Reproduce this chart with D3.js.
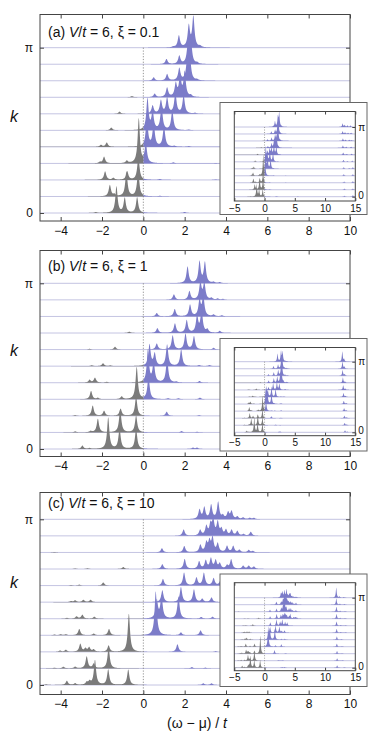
<!DOCTYPE html>
<html>
<head>
<meta charset="utf-8">
<script src="https://cdn.jsdelivr.net/npm/d3@7"></script>
<style>
  body { margin: 0; background: #fff; }
  svg { display: block; }
  text { font-family: "Liberation Sans", Arial, sans-serif; fill: #111; }
</style>
</head>
<body>
<script>
// spectral peaks per k row (k = 0 ... pi in 10 steps), [omega, height in row units]
const peaksA = [
  [[-2.3,0.05],[-1.3,1.6],[-0.9,0.9],[-0.3,0.95],[2.0,0.06],[5.5,0.03]],
  [[-1.62,0.68],[-1.4,0.12],[-0.82,1.5],[-0.25,1.55],[0.8,0.04]],
  [[-1.85,0.52],[-1.45,0.12],[-0.78,0.52],[-0.24,1.4],[0.8,0.05],[3.5,0.03]],
  [[-2.1,0.08],[-1.9,0.4],[-0.8,0.15],[-0.22,2.7],[0.12,1.2],[1.45,0.06],[3.5,0.03]],
  [[-2.05,0.12],[-1.77,0.26],[0.17,1.7],[0.5,1.4],[1.0,1.25],[1.5,0.05],[2.2,0.04]],
  [[-1.55,0.16],[0.2,1.9],[0.45,1.1],[0.88,1.45],[1.4,1.2],[2.2,0.04]],
  [[-1.15,0.13],[0.45,0.5],[0.85,0.8],[1.15,0.95],[1.55,1.25],[1.95,1.1],[2.5,0.05]],
  [[-0.55,0.07],[0.55,0.21],[1.15,0.57],[1.57,0.8],[1.78,1.25],[2.0,1.5],[2.3,0.1]],
  [[0.5,0.2],[1.15,0.4],[1.74,0.75],[2.12,1.1],[2.25,1.4],[2.6,0.06]],
  [[1.12,0.31],[1.74,0.5],[2.15,1.0],[2.3,1.4],[2.6,0.08]],
  [[1.45,0.05],[1.72,0.72],[2.2,1.3],[2.42,1.85],[2.75,0.08]]
];
const peaksB = [
  [[-2.95,0.2],[-2.6,0.05],[-1.7,1.9],[-1.15,1.2],[-0.35,1.2],[2.4,0.08],[2.6,0.08]],
  [[-3.3,0.06],[-2.55,0.08],[-2.2,0.82],[-1.12,1.4],[-0.35,1.0],[1.85,0.08],[2.6,0.04]],
  [[-3.3,0.05],[-2.45,0.62],[-1.9,0.3],[-1.1,0.43],[-0.35,1.15],[1.13,0.25],[2.7,0.05]],
  [[-2.53,0.5],[-2.2,0.08],[-1.05,0.17],[-0.32,1.95],[0.25,1.35],[1.2,0.06],[1.7,0.06],[2.74,0.1]],
  [[-2.6,0.17],[-2.34,0.3],[-1.77,0.05],[0.22,1.95],[0.5,1.2],[1.15,1.45],[1.6,0.05],[2.72,0.1]],
  [[-2.5,0.05],[-1.95,0.17],[-1.6,0.04],[0.3,1.3],[0.55,0.75],[1.15,1.3],[1.83,1.0],[2.7,0.06],[3.2,0.06]],
  [[-2.6,0.05],[-1.37,0.17],[0.65,0.36],[1.42,0.85],[2.04,0.95],[2.45,0.8],[3.4,0.1]],
  [[-0.68,0.08],[0.68,0.29],[1.53,0.57],[2.1,0.76],[2.6,1.0],[2.82,1.35],[3.1,0.2],[3.7,0.12]],
  [[0.65,0.2],[1.52,0.44],[2.26,0.7],[2.72,0.95],[2.9,1.2],[3.4,0.1],[3.8,0.06]],
  [[1.48,0.33],[2.23,0.52],[2.76,1.05],[2.95,1.0],[3.3,0.1],[3.6,0.07],[3.85,0.05]],
  [[2.14,1.0],[2.72,1.3],[2.98,1.25],[3.4,0.07],[3.7,0.06]]
];
const peaksC = [
  [[-4.7,0.04],[-3.7,0.25],[-3.3,0.1],[-2.74,0.15],[-2.6,0.2],[-2.34,1.5],[-1.7,0.93],[-0.73,0.93],[2.9,0.1],[3.3,0.1]],
  [[-4.3,0.04],[-3.87,0.1],[-3.3,0.1],[-2.74,0.72],[-2.4,0.28],[-1.68,1.25],[2.35,0.08],[3.0,0.05]],
  [[-4.03,0.08],[-3.75,0.12],[-3.05,0.48],[-2.8,0.2],[-2.62,0.26],[-2.4,0.14],[-1.68,0.38],[-0.7,2.3],[1.65,0.46],[3.5,0.05]],
  [[-4.3,0.04],[-4.0,0.06],[-3.75,0.06],[-3.1,0.38],[-2.4,0.1],[-1.66,0.38],[0.6,2.65],[1.82,0.17],[2.77,0.3]],
  [[-3.7,0.05],[-3.23,0.14],[-2.95,0.24],[-2.37,0.12],[0.65,1.1],[0.88,1.35],[1.7,1.35],[2.8,0.1],[3.35,0.12]],
  [[-3.5,0.06],[-3.3,0.11],[-2.9,0.14],[-2.55,0.14],[0.92,0.72],[1.82,0.9],[2.45,0.76],[2.85,0.2],[3.3,0.28]],
  [[-3.5,0.04],[-3.1,0.06],[-1.94,0.19],[0.95,0.4],[1.97,0.78],[2.57,0.48],[2.93,0.76],[3.4,0.44],[3.75,0.38]],
  [[-3.3,0.03],[-2.7,0.04],[-0.97,0.12],[0.92,0.29],[2.0,0.6],[2.7,0.45],[3.02,0.5],[3.27,0.62],[3.5,0.5],[3.7,0.32],[4.05,0.2],[4.25,0.57],[4.83,0.19],[5.1,0.19],[5.35,0.14]],
  [[-4.3,0.03],[0.9,0.25],[1.98,0.38],[2.76,0.44],[3.05,0.56],[3.2,0.64],[3.35,0.85],[3.6,0.52],[4.05,0.38],[4.35,0.38],[4.65,0.15],[5.1,0.14],[5.3,0.08]],
  [[1.95,0.38],[2.75,0.34],[3.05,0.56],[3.25,0.64],[3.38,0.92],[3.6,0.8],[3.78,0.38],[4.0,0.34],[4.27,0.34],[4.55,0.28],[4.85,0.1],[5.2,0.24]],
  [[2.72,0.57],[2.95,0.7],[3.28,0.85],[3.62,1.02],[3.85,0.2],[4.1,0.4],[4.27,0.47],[4.55,0.15],[4.83,0.1],[5.15,0.08],[5.35,0.08]]
];

// high-energy satellites, only visible in the insets
const satA = [
  [[13.2,0.12],[14.6,0.2]], [[13.2,0.15],[14.6,0.15]], [[13.15,0.15],[14.6,0.2]],
  [[13.1,0.2],[14.6,0.2]], [[13.1,0.2],[14.0,0.1],[14.6,0.2]], [[13.05,0.25],[13.7,0.1],[14.5,0.15]],
  [[13.0,0.3],[13.6,0.12],[14.4,0.15]], [[12.95,0.3],[13.5,0.15],[14.3,0.15]],
  [[12.95,0.3],[13.4,0.15],[14.0,0.15],[14.4,0.1]], [[12.9,0.35],[13.3,0.2],[13.8,0.15],[14.3,0.15]],
  [[12.9,0.45],[13.25,0.25],[13.7,0.2],[14.2,0.2]]
];
const satB = [
  [[13.3,0.25],[13.7,0.08]], [[13.25,0.3],[13.6,0.08]], [[13.2,0.32],[13.6,0.1]],
  [[13.15,0.38],[13.5,0.1]], [[13.1,0.42],[13.5,0.12]], [[13.05,0.5],[13.4,0.12]],
  [[13.0,0.6],[13.35,0.15]], [[12.95,0.7],[13.3,0.15]], [[12.9,0.75],[13.25,0.2]],
  [[12.88,0.9],[13.2,0.25]], [[12.85,1.3],[13.15,0.3]]
];
const satC = [
  [[12.0,0.3],[13.2,0.05]], [[12.0,0.3],[12.9,0.06]], [[11.98,0.35],[12.8,0.06]],
  [[11.95,0.4],[12.8,0.08]], [[11.95,0.42],[12.7,0.08]], [[11.92,0.5],[12.6,0.1],[13.4,0.06]],
  [[11.9,0.55],[12.6,0.1],[13.4,0.06]], [[11.9,0.6],[12.5,0.1],[13.3,0.08]],
  [[11.88,0.65],[12.5,0.12],[13.3,0.08]], [[11.86,0.8],[12.45,0.12],[13.2,0.1]],
  [[11.85,1.3],[12.4,0.15],[13.1,0.1]]
];

const mainTicks = [-4, -2, 0, 2, 4, 6, 8, 10];
const insetTicks = [-5, 0, 5, 10, 15];
const kLabels = ["0", "π"];

const panels = [
  { tag: "(a)", xi: "0.1", peaks: peaksA, sat: satA,
    top: 14.5, bottom: 221, base0: 213, basePi: 47.7, titleY: 36.5, kY: 122,
    inset: { top: 102.5, bottom: 214.5, iTop: 111.5, iBottom: 201, base0: 196.7, basePi: 127 } },
  { tag: "(b)", xi: "1", peaks: peaksB, sat: satB,
    top: 250.5, bottom: 456.5, base0: 449, basePi: 283.3, titleY: 271, kY: 356,
    inset: { top: 338.5, bottom: 451, iTop: 347.5, iBottom: 435.7, base0: 432.3, basePi: 361.7 } },
  { tag: "(c)", xi: "10", peaks: peaksC, sat: satC,
    top: 492.5, bottom: 694.5, base0: 685, basePi: 519.3, titleY: 508, kY: 588,
    inset: { top: 574, bottom: 686.5, iTop: 582.7, iBottom: 670.7, base0: 667.7, basePi: 597.7 } }
];

const W = 374, H = 732;
const BLUE = "#7c7cc9", GRAY = "#7b7b7b", BASE = "#c4c4e2", FRAME = "#444";

const svg = d3.select("body").append("svg").attr("width", W).attr("height", H);

const gridMain = d3.range(-5, 10.0001, 0.01);
const gridInset = d3.range(-5, 15.0001, 0.02);

function spectrum(peaks, w, gamma) {
  let s = 0;
  peaks.forEach(p => { const u = (w - p[0]) / gamma; s += p[1] / (1 + u * u); });
  return s;
}

// draws the waterfall of rows into g, lower rows painted over upper ones
function drawRows(g, peakRows, grid, x, y, gamma, hScale) {
  for (let k = 10; k >= 0; k--) {
    const pts = grid.map(w => ({ w: w, v: spectrum(peakRows[k], w, gamma) * hScale }));
    const area = d3.area()
      .x(d => x(d.w))
      .y0(y(k))
      .y1(d => y(k + d.v));
    g.append("line")
      .attr("x1", x(grid[0])).attr("x2", x(grid[grid.length - 1]))
      .attr("y1", y(k)).attr("y2", y(k))
      .attr("stroke", BASE).attr("stroke-width", 1);
    g.append("path").datum(pts.filter(d => d.w <= 0))
      .attr("d", area).attr("fill", GRAY);
    g.append("path").datum(pts.filter(d => d.w >= 0))
      .attr("d", area).attr("fill", BLUE);
  }
}

panels.forEach((p, i) => {
  const x = d3.scaleLinear().domain([-5, 10]).range([40, 350]);
  const y = d3.scaleLinear().domain([0, 10]).range([p.base0, p.basePi]);
  const g = svg.append("g");

  svg.append("clipPath").attr("id", "clip" + i)
    .append("rect").attr("x", 40).attr("y", p.top)
    .attr("width", 310).attr("height", p.bottom - p.top);

  const plot = g.append("g").attr("clip-path", "url(#clip" + i + ")");
  drawRows(plot, p.peaks, gridMain, x, y, 0.065, 1);

  // zero line
  g.append("line")
    .attr("x1", x(0)).attr("x2", x(0)).attr("y1", y(10)).attr("y2", p.bottom)
    .attr("stroke", "#777").attr("stroke-width", 0.8).attr("stroke-dasharray", "1.2,1.6");

  // axes with inward ticks
  g.append("g").attr("transform", `translate(0,${p.bottom})`)
    .call(d3.axisBottom(x).tickValues(mainTicks).tickSize(-4).tickPadding(5))
    .call(a => a.select(".domain").remove())
    .call(a => a.selectAll("text").attr("font-size", 12).attr("fill", "#111"));
  g.append("g").attr("transform", `translate(0,${p.top})`)
    .call(d3.axisTop(x).tickValues(mainTicks).tickSize(-4).tickFormat(""))
    .call(a => a.select(".domain").remove());
  g.append("g").attr("transform", "translate(40,0)")
    .call(d3.axisLeft(y).tickValues([0, 10]).tickSize(-4).tickPadding(7)
      .tickFormat((d, j) => kLabels[j]))
    .call(a => a.select(".domain").remove())
    .call(a => a.selectAll("text").attr("font-size", 12).attr("fill", "#111"));
  g.append("g").attr("transform", "translate(350,0)")
    .call(d3.axisRight(y).tickValues([0, 10]).tickSize(-4).tickFormat(""))
    .call(a => a.select(".domain").remove());
  g.selectAll(".tick line").attr("stroke", FRAME);

  g.append("rect").attr("x", 40).attr("y", p.top)
    .attr("width", 310).attr("height", p.bottom - p.top)
    .attr("fill", "none").attr("stroke", FRAME).attr("stroke-width", 1);

  // panel title
  const t = g.append("text").attr("x", 48).attr("y", p.titleY).attr("font-size", 14);
  t.append("tspan").text(p.tag + "  ");
  t.append("tspan").attr("font-style", "italic").text("V");
  t.append("tspan").text("/");
  t.append("tspan").attr("font-style", "italic").text("t");
  t.append("tspan").text(" = 6, ξ = " + p.xi);

  g.append("text").attr("x", 14).attr("y", p.kY).attr("text-anchor", "middle")
    .attr("font-size", 16).attr("font-style", "italic").text("k");

  // inset
  const q = p.inset;
  g.append("rect").attr("x", 220).attr("y", q.top)
    .attr("width", 147).attr("height", q.bottom - q.top)
    .attr("fill", "#fff").attr("stroke", "#666").attr("stroke-width", 1);

  const xi = d3.scaleLinear().domain([-5, 15]).range([234.3, 355.3]);
  const yi = d3.scaleLinear().domain([0, 10]).range([q.base0, q.basePi]);
  svg.append("clipPath").attr("id", "iclip" + i)
    .append("rect").attr("x", 234.3).attr("y", q.iTop)
    .attr("width", 121).attr("height", q.iBottom - q.iTop);
  const iplot = g.append("g").attr("clip-path", "url(#iclip" + i + ")");
  const rowsInset = p.peaks.map((r, k) => r.concat(p.sat[k]));
  drawRows(iplot, rowsInset, gridInset, xi, yi, 0.09, 1.1);

  g.append("line")
    .attr("x1", xi(0)).attr("x2", xi(0)).attr("y1", yi(10)).attr("y2", q.iBottom)
    .attr("stroke", "#777").attr("stroke-width", 0.7).attr("stroke-dasharray", "1,1.5");

  const ia = g.append("g");
  ia.append("g").attr("transform", `translate(0,${q.iBottom})`)
    .call(d3.axisBottom(xi).tickValues(insetTicks).tickSize(-3).tickPadding(3.5))
    .call(a => a.select(".domain").remove())
    .call(a => a.selectAll("text").attr("font-size", 10).attr("fill", "#111"));
  ia.append("g").attr("transform", `translate(0,${q.iTop})`)
    .call(d3.axisTop(xi).tickValues(insetTicks).tickSize(-3).tickFormat(""))
    .call(a => a.select(".domain").remove());
  ia.append("g").attr("transform", "translate(355.3,0)")
    .call(d3.axisRight(yi).tickValues([0, 10]).tickSize(-3).tickPadding(3)
      .tickFormat((d, j) => kLabels[j]))
    .call(a => a.select(".domain").remove())
    .call(a => a.selectAll("text").attr("font-size", 10).attr("fill", "#111")
      .attr("dy", (d, j) => j === 0 ? "0.15em" : "0.32em"));
  ia.selectAll(".tick line").attr("stroke", FRAME);
  ia.append("rect").attr("x", 234.3).attr("y", q.iTop)
    .attr("width", 121).attr("height", q.iBottom - q.iTop)
    .attr("fill", "none").attr("stroke", FRAME).attr("stroke-width", 1);
});

// shared x axis title
const xt = svg.append("text").attr("x", 197).attr("y", 727.5)
  .attr("text-anchor", "middle").attr("font-size", 14);
xt.append("tspan").text("(ω − μ) / ");
xt.append("tspan").attr("font-style", "italic").text("t");
</script>
</body>
</html>
